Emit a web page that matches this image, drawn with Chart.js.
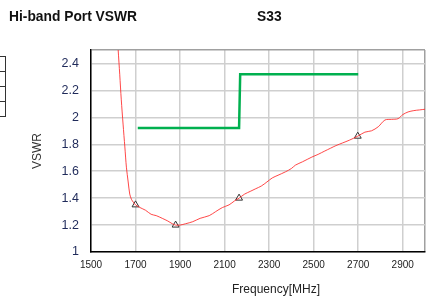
<!DOCTYPE html>
<html>
<head>
<meta charset="utf-8">
<script src="https://cdn.jsdelivr.net/npm/chart.js@4"></script>
<style>
  body { margin: 0; background: #fff; }
  #wrap { position: relative; width: 430px; height: 297px; font-family: "Liberation Sans", Arial, sans-serif; }
  .title { position: absolute; font-weight: bold; font-size: 13.8px; color: #111; white-space: nowrap; }
  #xtitle { position: absolute; font-size: 12px; color: #222; left: 232px; top: 282px; white-space: nowrap; }
  #stub { position: absolute; left: -2px; top: 56px; width: 8px; }
  #stub div { height: 14px; border: 1px solid #333; border-top: none; }
  #stub div:first-child { border-top: 1px solid #333; }
</style>
</head>
<body>
<div id="wrap">
  <canvas id="chart" width="430" height="297"></canvas>
  <div class="title" style="left:9px; top:9px;">Hi-band Port VSWR</div>
  <div class="title" style="left:257px; top:9px;">S33</div>
  <div id="xtitle">Frequency[MHz]</div>
  <div id="stub"><div></div><div></div><div></div><div></div></div>
</div>
<script>
document.addEventListener("DOMContentLoaded", function () {
    // measured S33 trace
    const freq = [1614, 1622, 1629, 1636, 1644, 1652, 1659, 1667, 1674, 1682, 1690, 1700, 1720, 1745, 1770, 1793, 1820, 1845, 1865, 1880,
                  1900, 1925, 1957, 1990, 2031, 2060, 2090, 2120, 2145, 2165, 2190, 2215, 2240, 2265, 2290, 2314, 2340, 2373, 2400, 2418,
                  2450, 2492, 2520, 2550, 2575, 2600, 2630, 2660, 2698, 2730, 2760, 2790, 2820, 2850, 2879, 2900, 2924, 2950, 2975, 3000];
    const vswr = [2.72, 2.50, 2.32, 2.13, 1.95, 1.78, 1.63, 1.52, 1.43, 1.39, 1.37, 1.35, 1.33, 1.31, 1.28, 1.27, 1.25, 1.23, 1.21, 1.20,
                  1.20, 1.21, 1.225, 1.25, 1.27, 1.30, 1.33, 1.35, 1.38, 1.40, 1.43, 1.45, 1.47, 1.49, 1.52, 1.55, 1.57, 1.595, 1.62, 1.645,
                  1.67, 1.705, 1.725, 1.75, 1.77, 1.79, 1.81, 1.83, 1.86, 1.89, 1.90, 1.93, 1.98, 1.985, 1.99, 2.02, 2.04, 2.05, 2.055, 2.06];
    // triangle markers
    const markerFreq = [1700, 1880, 2165, 2698];
    const markerVswr = [1.35, 1.20, 1.40, 1.86];
    // spec limit (green)
    const limitFreq = [1710, 2165, 2170, 2700];
    const limitVswr = [1.92, 1.92, 2.32, 2.32];

    const xTicks = [1500, 1700, 1900, 2100, 2300, 2500, 2700, 2900, 3000];
    const yTicks = [1, 1.2, 1.4, 1.6, 1.8, 2, 2.2, 2.4, 2.5];

    const pts = (xs, ys) => xs.map((x, i) => ({ x: x, y: ys[i] }));
    const ctx = document.getElementById("chart").getContext("2d");

    new Chart(ctx, {
        type: 'line',
        data: {
            datasets: [
                {
                    data: pts(limitFreq, limitVswr),
                    borderColor: '#00b04f',
                    borderWidth: 2.5,
                    pointRadius: 0,
                    tension: 0
                },
                {
                    data: pts(freq, vswr),
                    borderColor: 'rgba(255, 40, 40, 0.85)',
                    borderWidth: 1,
                    pointRadius: 0,
                    tension: 0.3
                },
                {
                    data: pts(markerFreq, markerVswr),
                    showLine: false,
                    pointStyle: 'triangle',
                    pointRadius: 4,
                    pointBorderColor: '#333',
                    pointBackgroundColor: '#fff',
                    pointBorderWidth: 1
                }
            ]
        },
        options: {
            responsive: false,
            animation: false,
            layout: { padding: { top: 50, right: 4, left: 0, bottom: 0 } },
            plugins: {
                legend: { display: false },
                tooltip: { enabled: false }
            },
            scales: {
                x: {
                    type: 'linear',
                    min: 1500,
                    max: 3000,
                    afterBuildTicks: s => { s.ticks = xTicks.map(v => ({ value: v })); },
                    afterFit: s => { s.height = 45; s.paddingLeft = 0; s.paddingRight = 0; },
                    grid: {
                        drawTicks: false,
                        lineWidth: 1.5,
                        color: c => c.tick && c.tick.value === 3000 ? '#a0a0a0' : '#cfcfcf'
                    },
                    border: { color: '#000', width: 1.5 },
                    ticks: {
                        padding: 7,
                        maxRotation: 0,
                        color: '#222',
                        font: { family: 'Liberation Sans', size: 10 },
                        callback: v => v === 3000 ? '' : v
                    }
                },
                y: {
                    min: 1,
                    max: 2.5,
                    afterBuildTicks: s => { s.ticks = yTicks.map(v => ({ value: v })); },
                    afterFit: s => { s.width = 91; s.paddingTop = 0; s.paddingBottom = 0; },
                    grid: {
                        drawTicks: false,
                        lineWidth: 1.5,
                        color: c => c.tick && c.tick.value === 2.5 ? '#a0a0a0' : '#cfcfcf'
                    },
                    border: { color: '#000', width: 1.5 },
                    title: {
                        display: true,
                        text: 'VSWR',
                        color: '#333',
                        font: { family: 'Liberation Sans', size: 12 },
                        padding: { top: 30, bottom: 0 }
                    },
                    ticks: {
                        padding: 12,
                        color: '#1f2a5a',
                        font: { family: 'Liberation Sans', size: 12.5 },
                        callback: v => v === 2.5 ? '' : v
                    }
                }
            }
        }
    });
});
</script>
</body>
</html>
